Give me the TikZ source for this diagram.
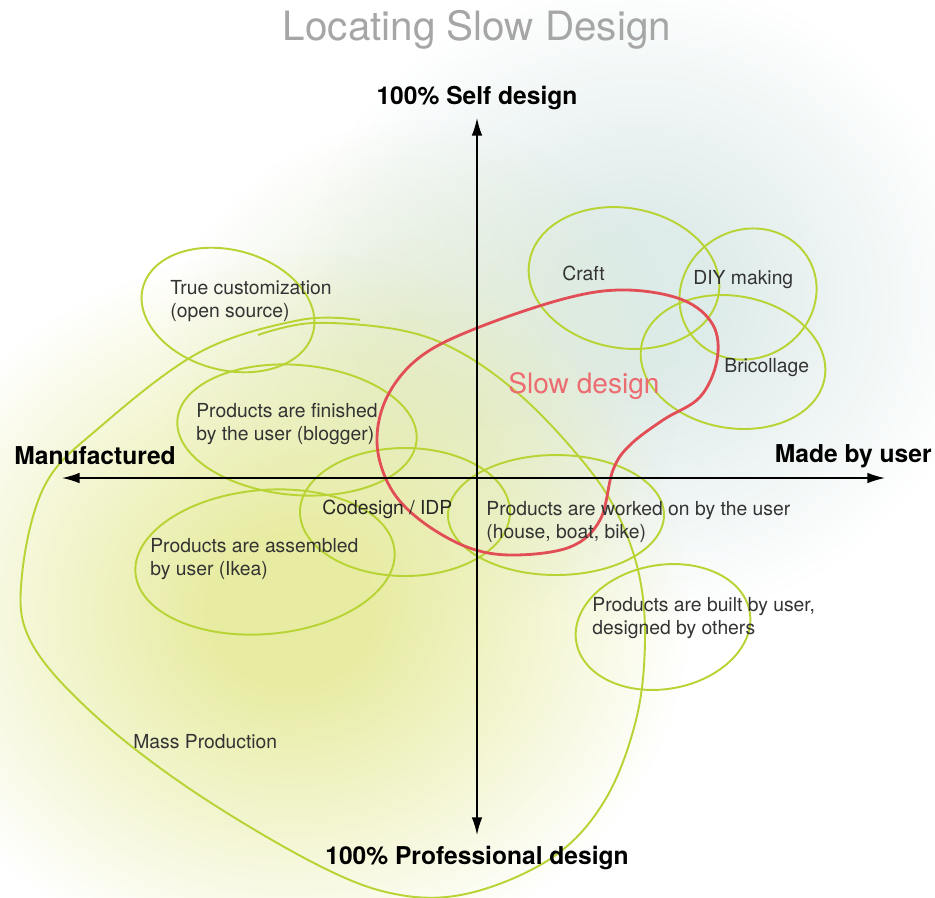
\documentclass[tikz,border=0pt]{standalone}
\usepackage{fontspec}
\setmainfont{TeX Gyre Heros}
\usetikzlibrary{positioning}
\usetikzlibrary{arrows.meta}
\usetikzlibrary{fadings}
\definecolor{laco}{RGB}{184,212,52}
\definecolor{lento}{RGB}{226,78,86}
\definecolor{lentotxt}{RGB}{236,108,114}
\definecolor{texto}{RGB}{51,51,51}
\definecolor{brilho}{RGB}{232,236,162}
\definecolor{azulado}{RGB}{221,235,233}
\pgfdeclareradialshading{brilhosombra}{\pgfpointorigin}{color(0bp)=(pgftransparent!0); color(5bp)=(pgftransparent!0);
    color(25bp)=(pgftransparent!100); color(50bp)=(pgftransparent!100)}
\pgfdeclarefading{brilhofade}{\pgfuseshading{brilhosombra}}

\begin{document}
\begin{tikzpicture}[x=0.02cm, y=-0.02cm,
    laco/.style={draw=laco, line width=1.1pt},
    rotulo/.style={font=\fontsize{11}{13.6}\selectfont, text=texto, align=left, anchor=west, inner sep=0pt},
    eixo/.style={font=\bfseries\fontsize{14}{16}\selectfont, inner sep=0pt},
    seta/.style={{Latex[length=10pt,width=6pt]}-{Latex[length=10pt,width=6pt]}, line width=0.9pt}]

        % Fundo
        \useasboundingbox (0,0) rectangle (935,897);
        \fill[white] (0,0) rectangle (935,897);
        \fill[azulado, path fading=brilhofade] (640,300) ellipse [x radius=340, y radius=320];
        \fill[brilho!35!azulado, path fading=brilhofade, opacity=0.8] (420,380) ellipse [x radius=260, y radius=260];
        \fill[brilho, path fading=brilhofade] (290,610) ellipse [x radius=400, y radius=360];

        % Laços verdes
        \foreach \pos/\rx/\ry/\ang in {{(228,310)/88/60/-15}, {(297,430)/120/65/-5}, {(405,512)/105/64/0},
                                       {(265,562)/130/72/5}, {(556,515)/108/60/0}, {(663,627)/88/62/10},
                                       {(624,278)/96/70/-10}, {(748,294)/70/64/30}, {(733,362)/93/66/-10}}
            \draw[laco, rotate around={\ang:\pos}] \pos ellipse [x radius=\rx, y radius=\ry];

        \draw[laco] plot[smooth, tension=0.6] coordinates {(258,335) (313,323) (400,330) (460,352) (520,395)
            (575,452) (613,505) (638,570) (645,640) (636,720) (605,800) (553,857) (470,893) (395,894)
            (312,862) (187,787) (89,710) (30,640) (22,575) (45,485) (100,427) (200,352) (300,320) (360,320)};

        % Laço vermelho
        \draw[lento, line width=1.6pt] plot[smooth cycle, tension=0.6] coordinates {(477,328) (420,357) (387,397)
            (377,443) (390,487) (420,520) (467,547) (513,555) (570,547) (600,520) (613,470) (630,445)
            (663,420) (700,397) (717,360) (713,325) (683,300) (627,290) (567,298)};

        % Eixos
        \coordinate (oeste) at (62,478);
        \coordinate (leste) at (885,478);
        \coordinate (norte) at (477,118);
        \coordinate (sul) at (477,835);
        \draw[seta] (oeste) -- (leste);
        \draw[seta] (norte) -- (sul);

        % Títulos dos eixos
        \node[font=\fontsize{23}{26}\selectfont, text=gray!70] (titulo) at (477,30) {Locating Slow Design};
        \node[eixo] (topo) at (477,98) {100\% Self design};
        \node[eixo] (base) at (477,858) {100\% Professional design};
        \node[eixo, anchor=west] (manuf) at (14,456) {Manufactured};
        \node[eixo, anchor=east] (usuario) at (932,456) {Made by user};

        % Rótulos
        \foreach \pos/\name/\txt in {{(170,301)/custom/{True customization\\(open source)}},
                                     {(196,424)/acabado/{Products are finished\\by the user (blogger)}},
                                     {(150,559)/montado/{Products are assembled\\by user (Ikea)}},
                                     {(486,522)/trabalhado/{Products are worked on by the user\\(house, boat, bike)}},
                                     {(592,618)/construido/{Products are built by user,\\designed by others}},
                                     {(133,742)/massa/{Mass Production}}, {(562,273)/craft/{Craft}},
                                     {(693,280)/diy/{DIY making}}, {(724,368)/brico/{Bricollage}}}
            \node[rotulo] (\name) at \pos {\txt};
        \node[rotulo, text=black!85] (codesign) at (322,509) {Codesign / IDP};
        \node[rotulo, font=\fontsize{16}{18}\selectfont, text=lentotxt] (slow) at (508,386) {Slow design};

    \end{tikzpicture}
\end{document}
